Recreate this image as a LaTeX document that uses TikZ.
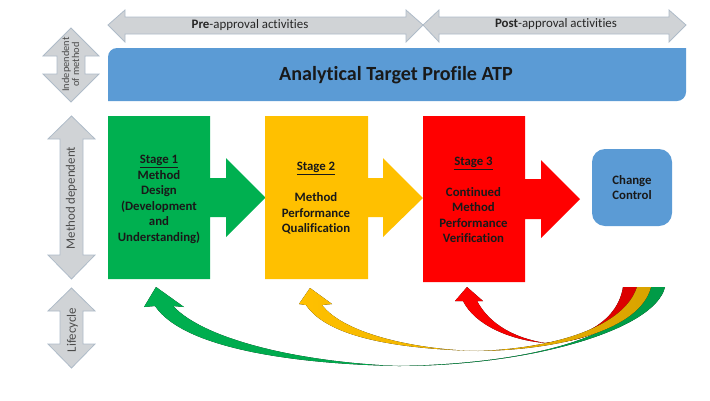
\documentclass[tikz,border=0pt]{standalone}
\usepackage{fontspec}
\setmainfont[Ligatures=CommonOff]{Carlito}
\definecolor{cgreen}{HTML}{00B050}
\definecolor{cyellow}{HTML}{FFC000}
\definecolor{cred}{HTML}{FF0000}
\definecolor{cblue}{HTML}{5B9BD5}
\definecolor{cgray}{HTML}{D0D3D6}
\definecolor{cgrayline}{HTML}{AEBBC8}
\tikzset{
  grayarrow/.style={fill=cgray,draw=cgrayline,line width=0.8pt,line join=miter},
  stagelabel/.style={font=\fontsize{12.8}{15.5}\selectfont\bfseries,align=center,text=black!90,inner sep=0pt},
  toplabel/.style={font=\fontsize{12.9}{14}\selectfont,text=black!85,inner sep=0pt},
  sidelabel/.style={font=\fontsize{12.9}{12}\selectfont,text=black!70,inner sep=0pt,rotate=90,align=center},
}
\begin{document}
\begin{tikzpicture}[x=1pt,y=-1pt]
\useasboundingbox (0,0) rectangle (710,400);
% horizontal grey arrows
\path[grayarrow] (108,25) -- (125,10) -- (125,17) -- (406,17) -- (406,10) -- (423,25) -- (406,42) -- (406,34) -- (125,34) -- (125,42) -- cycle;
\path[grayarrow] (423,25) -- (439,10) -- (439,17) -- (669,17) -- (669,10) -- (686,25) -- (669,42) -- (669,34) -- (439,34) -- (439,42) -- cycle;
\node[toplabel] (pre) at (250,25) {\textbf{Pre}-approval activities};
\node[toplabel] (post) at (556,24.5) {\textbf{Post}-approval activities};
% ATP banner
\fill[cblue] (108,101) [rounded corners=9pt] -- (108,48) [sharp corners] -- (686,48) [rounded corners=9pt] -- (686,101) [sharp corners] -- (108,101) -- cycle;
\node[inner sep=0pt,font=\fontsize{20.1}{22}\selectfont\bfseries,text=black!90] (atp) at (396,75) {Analytical Target Profile ATP};
% vertical grey arrows
\path[grayarrow] (71,28) -- (99,56) -- (85,56) -- (85,74) -- (99,74) -- (71,102) -- (43,74) -- (57,74) -- (57,56) -- (43,56) -- cycle;
\path[grayarrow] (71.5,116) -- (95,139) -- (83,139) -- (83,255) -- (95,255) -- (71.5,279) -- (48,255) -- (60,255) -- (60,139) -- (48,139) -- cycle;
\path[grayarrow] (71.5,288) -- (95,311) -- (83,311) -- (83,344) -- (95,344) -- (71.5,368) -- (48,344) -- (60,344) -- (60,311) -- (48,311) -- cycle;
\node[sidelabel,font=\fontsize{10.4}{7.5}\selectfont] (indep) at (70.5,64.5) {Independent\\of method};
\node[sidelabel] (dep) at (71.5,198) {Method dependent};
\node[sidelabel] (life) at (72.5,330) {Lifecycle};
% stage blocks
\fill[cgreen] (108,116) -- (210,116) -- (210,178) -- (226,178) -- (226,158) -- (265.5,197.5) -- (226,237) -- (226,217) -- (210,217) -- (210,279) -- (108,279) -- cycle;
\fill[cyellow] (265,116) -- (368,116) -- (368,178) -- (383,178) -- (383,158) -- (423,198) -- (383,237) -- (383,217) -- (368,217) -- (368,279) -- (265,279) -- cycle;
\fill[cred] (423,116) -- (525,116) -- (525,179) -- (541,179) -- (541,160) -- (580,199) -- (541,238) -- (541,219) -- (525,219) -- (525,282) -- (423,282) -- cycle;
\node[stagelabel] (s1) at (159,199.5) {\underline{Stage 1}\\Method\\Design\\(Development\\and\\Understanding)};
\node[stagelabel] (s2) at (316,198.5) {\underline{Stage 2}\\[15.5pt]Method\\Performance\\Qualification};
\node[stagelabel] (s3) at (473.5,200) {\underline{Stage 3}\\[15.5pt]Continued\\Method\\Performance\\Verification};
\node[fill=cblue,rounded corners=13pt,minimum width=80pt,minimum height=77pt,inner sep=0pt,
  font=\fontsize{12.8}{15.5}\selectfont\bfseries,align=center,text=black!90] (cc) at (632,187.5) {Change\\Control};
% curved return arrows
\fill[left color=cred,right color=black!15!cred]
  (637,287) .. controls (632,320) and (590,343) .. (545,343)
  .. controls (510,340) and (475,325) .. (463,301) -- (455,301) -- (467,287) -- (483,301) -- (477,301)
  .. controls (490,325) and (515,338) .. (545,343)
  .. controls (585,338) and (618,320) .. (623,287) -- cycle;
\fill[left color=cgreen,right color=black!12!cgreen]
  (665,287) .. controls (655,330) and (530,366) .. (398,366)
  .. controls (300,364) and (185,350) .. (155,306) -- (144,307) -- (156,287) -- (184,307) -- (173,306)
  .. controls (205,340) and (300,362) .. (398,366)
  .. controls (520,364) and (630,340) .. (645,287) -- cycle;
\fill[left color=cyellow,right color=black!15!cyellow]
  (651,287) .. controls (640,330) and (560,350) .. (478,351)
  .. controls (400,349) and (328,338) .. (306,305) -- (299,304) -- (310,288) -- (332,304) -- (322,305)
  .. controls (345,335) and (420,350) .. (478,351)
  .. controls (560,348) and (625,325) .. (637,287) -- cycle;
\end{tikzpicture}
\end{document}
